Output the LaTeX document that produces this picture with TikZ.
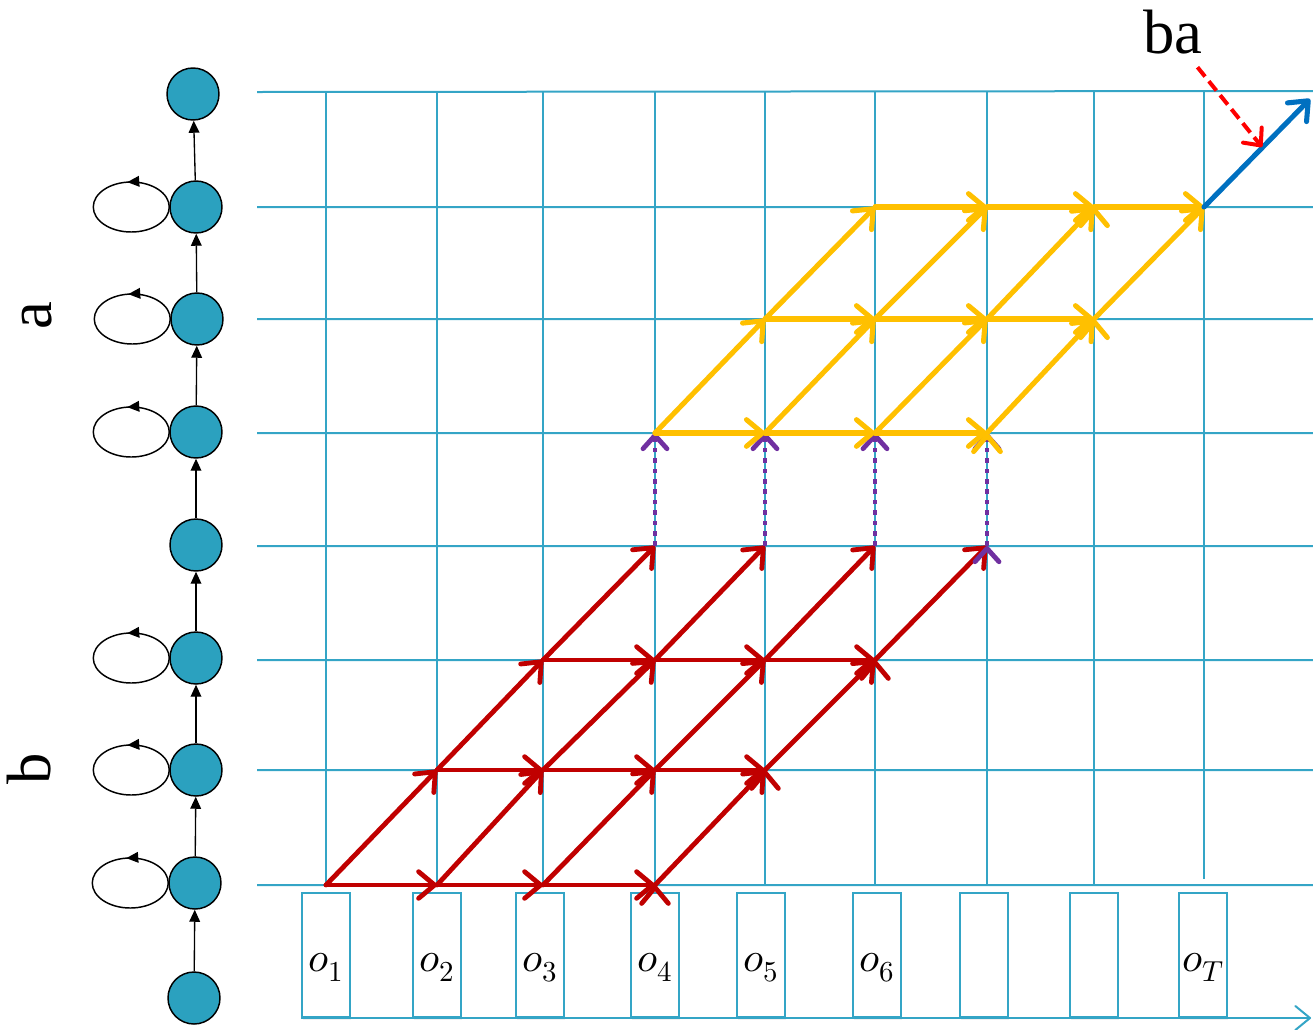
\documentclass[tikz,border=0pt]{standalone}
\usepackage{fontspec}
\usepackage{unicode-math}
\setmainfont{Liberation Serif}
\setmathfont{Latin Modern Math}
\usetikzlibrary{arrows.meta,decorations.markings,shadows}
\definecolor{gridblue}{RGB}{52,165,198}
\definecolor{nodeblue}{RGB}{43,161,191}
\definecolor{latred}{RGB}{192,0,0}
\definecolor{latyellow}{RGB}{255,192,0}
\definecolor{latpurple}{RGB}{112,48,160}
\definecolor{latblue}{RGB}{0,112,192}
\definecolor{dashred}{RGB}{255,0,0}
\newcommand{\obslabel}[1]{\smash{\raisebox{-12pt}{$#1$}}}
\begin{document}
\begin{tikzpicture}[x=0.75pt,y=-0.75pt,
grid/.style={draw=gridblue,line width=1.5pt},
state/.style={circle,draw=black,line width=1.1pt,fill=nodeblue,minimum size=39pt,inner sep=0pt},
chainarrow/.style={draw=black,line width=1pt,-{Triangle[length=9pt,width=8pt]}},
selfloop/.style={draw=black,line width=1.1pt,postaction=decorate,decoration={markings,mark=at position 0.27 with {\arrow{Triangle[length=9pt,width=8pt]}}}},
obs/.style={draw=gridblue,line width=1.5pt,fill=white,minimum width=36pt,minimum height=93pt,inner sep=0pt,font=\fontsize{31}{33}\selectfont,drop shadow={opacity=0.12,shadow xshift=1pt,shadow yshift=-2pt}},
axisline/.style={draw=gridblue,line width=1.5pt,-{Straight Barb[length=11pt,width=18pt,round]}},
lat/.style={line width=3.6pt,line cap=round,-{Straight Barb[length=12pt,width=20pt,round]}},
redlat/.style={lat,draw=latred},
yellat/.style={lat,draw=latyellow,line width=3.8pt},
bluelat/.style={lat,draw=latblue,line width=3.8pt},
link/.style={draw=latpurple,line width=3.6pt,dash pattern=on 3.4pt off 4.4pt,-{Straight Barb[length=10pt,width=18pt,round]}},
badash/.style={draw=dashred,line width=3pt,dash pattern=on 9pt off 4.5pt,-{Straight Barb[length=10pt,width=18pt,round]}},
bigfont/.style={font=\fontsize{47}{50}\selectfont,inner sep=0pt}
]
\useasboundingbox (0,0) rectangle (1313,1029);
\draw[grid] (257,92) -- (1313,91) (257,207) -- (1313,207) (257,319) -- (1313,319) (257,433) -- (1313,433)
  (257,546) -- (1313,546) (257,660) -- (1313,660) (257,770) -- (1313,770) (257,885) -- (1313,885);
\draw[grid] (326,92) -- (326,885) (437,92) -- (437,885) (543,92) -- (543,885) (655,92) -- (655,885)
  (765,92) -- (765,885) (875,92) -- (875,885) (987,92) -- (987,885) (1094,92) -- (1094,885) (1204,92) -- (1204,879);
\node[state] (st1) at (194,998) {};
\node[state] (st2) at (195,883) {};
\node[state] (st3) at (196,770) {};
\node[state] (st4) at (196,658) {};
\node[state] (st5) at (196,545) {};
\node[state] (st6) at (196,432) {};
\node[state] (st7) at (197,319) {};
\node[state] (st8) at (196,207) {};
\node[state] (st9) at (193,94) {};
\draw[chainarrow] (st1) -- (st2);
\draw[chainarrow] (st2) -- (st3);
\draw[chainarrow] (st3) -- (st4);
\draw[chainarrow] (st4) -- (st5);
\draw[chainarrow] (st5) -- (st6);
\draw[chainarrow] (st6) -- (st7);
\draw[chainarrow] (st7) -- (st8);
\draw[chainarrow] (st8) -- (st9);
\draw[selfloop] (st2.west) arc[start angle=0,end angle=-360,x radius=38,y radius=25];
\draw[selfloop] (st3.west) arc[start angle=0,end angle=-360,x radius=38,y radius=25];
\draw[selfloop] (st4.west) arc[start angle=0,end angle=-360,x radius=38,y radius=25];
\draw[selfloop] (st6.west) arc[start angle=0,end angle=-360,x radius=38,y radius=25];
\draw[selfloop] (st7.west) arc[start angle=0,end angle=-360,x radius=38,y radius=25];
\draw[selfloop] (st8.west) arc[start angle=0,end angle=-360,x radius=38,y radius=25];
\node[bigfont,rotate=90] (alab) at (37,316) {a};
\node[bigfont,rotate=90] (blab) at (29,769) {b};
\node[obs] (o1) at (326,955) {\obslabel{o_1}};
\node[obs] (o2) at (437,955) {\obslabel{o_2}};
\node[obs] (o3) at (540,955) {\obslabel{o_3}};
\node[obs] (o4) at (655,955) {\obslabel{o_4}};
\node[obs] (o5) at (761,955) {\obslabel{o_5}};
\node[obs] (o6) at (877,955) {\obslabel{o_6}};
\node[obs] (o7) at (984,955) {};
\node[obs] (o8) at (1094,955) {};
\node[obs] (o9) at (1203,955) {\obslabel{o_T}};
\coordinate (axisend) at (1311,1018);
\draw[axisline] (o1.south west) -- (axisend);
\coordinate (g10) at (326,885);
\coordinate (g20) at (437,885);
\coordinate (g30) at (543,885);
\coordinate (g40) at (655,885);
\coordinate (g21) at (437,770);
\coordinate (g31) at (543,770);
\coordinate (g41) at (655,770);
\coordinate (g51) at (765,770);
\coordinate (g32) at (543,660);
\coordinate (g42) at (655,660);
\coordinate (g52) at (765,660);
\coordinate (g62) at (875,660);
\coordinate (g43) at (655,546);
\coordinate (g53) at (765,546);
\coordinate (g63) at (875,546);
\coordinate (g73) at (987,546);
\coordinate (g44) at (655,433);
\coordinate (g54) at (765,433);
\coordinate (g64) at (875,433);
\coordinate (g74) at (987,433);
\coordinate (g55) at (765,319);
\coordinate (g65) at (875,319);
\coordinate (g75) at (987,319);
\coordinate (g85) at (1094,319);
\coordinate (g66) at (875,207);
\coordinate (g76) at (987,207);
\coordinate (g86) at (1094,207);
\coordinate (g96) at (1204,207);
\coordinate (g97) at (1310,99);
\draw[redlat] (g10) edge (g20) edge (g21) (g20) edge (g30) edge (g31) (g30) edge (g40) edge (g41) (g40) edge (g51);
\draw[redlat] (g21) edge (g31) edge (g32) (g31) edge (g41) edge (g42) (g41) edge (g51) edge (g52) (g51) edge (g62);
\draw[redlat] (g32) edge (g42) edge (g43) (g42) edge (g52) edge (g53) (g52) edge (g62) edge (g63) (g62) edge (g73);
\draw[link] (g43) edge (g44) (g53) edge (g54) (g63) edge (g64) (g73) edge (g74);
\draw[yellat] (g44) edge (g54) edge (g55) (g54) edge (g64) edge (g65) (g64) edge (g74) edge (g75) (g74) edge (g85);
\draw[yellat] (g55) edge (g65) edge (g66) (g65) edge (g75) edge (g76) (g75) edge (g85) edge (g86) (g85) edge (g96);
\draw[yellat] (g66) edge (g76) (g76) edge (g86) (g86) edge (g96);
\draw[bluelat] (g96) -- (g97);
\node[bigfont,anchor=base] (ba) at (1173,53) {ba};
\coordinate (batip) at (1262,147);
\draw[badash] ([xshift=-4pt,yshift=-10pt]ba.south east) -- (batip);
\end{tikzpicture}
\end{document}
